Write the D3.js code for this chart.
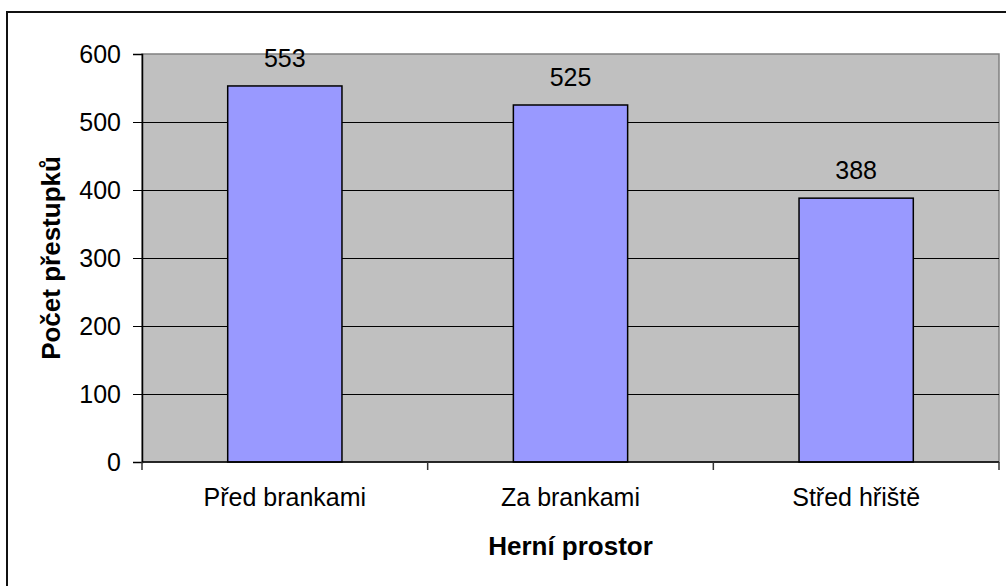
<!DOCTYPE html>
<html>
<head>
<meta charset="utf-8">
<script src="https://cdn.jsdelivr.net/npm/d3@7"></script>
<style>
  body { margin: 0; background: #fff; }
  text { font-family: Arial, "Liberation Sans", sans-serif; fill: #000; }
</style>
</head>
<body>
<div id="container"></div>
<script>
/* DATA */
const categories = ["Před brankami", "Za brankami", "Střed hřiště"];
const values = [553, 525, 388];
const yTicks = [0, 100, 200, 300, 400, 500, 600];
const xTitle = "Herní prostor";
const yTitle = "Počet přestupků";

/* CONSTANTS */
const width = 1006,
  height = 586,
  margin = { top: 54, bottom: 124, left: 142, right: 7 },
  fontSize = 25,
  titleSize = 26;

const svg = d3.select("#container")
  .append("svg")
  .attr("width", width)
  .attr("height", height);

// outer frame (right and bottom edges fall outside the picture)
svg.append("rect")
  .attr("x", 7)
  .attr("y", 12)
  .attr("width", 1010)
  .attr("height", 600)
  .attr("fill", "none")
  .attr("stroke", "#111")
  .attr("stroke-width", 2);

// + SCALES
const xScale = d3.scaleBand()
  .domain(categories)
  .range([margin.left, width - margin.right])
  .paddingInner(0.6)
  .paddingOuter(0.3);

const yScale = d3.scaleLinear()
  .domain([0, 600])
  .range([height - margin.bottom, margin.top]);

const plotW = width - margin.right - margin.left;

// plot background
svg.append("rect")
  .attr("x", margin.left)
  .attr("y", margin.top)
  .attr("width", plotW)
  .attr("height", yScale(0) - margin.top)
  .attr("fill", "#c0c0c0")
  .attr("stroke", "#808080")
  .attr("stroke-width", 1.5);

// gridlines
svg.append("g")
  .selectAll("line")
  .data(yTicks.filter(d => d > 0 && d < 600))
  .join("line")
  .attr("x1", margin.left)
  .attr("x2", width - margin.right)
  .attr("y1", d => yScale(d) + 0.5)
  .attr("y2", d => yScale(d) + 0.5)
  .attr("stroke", "#000")
  .attr("stroke-width", 1);

// + BARS
svg.append("g")
  .selectAll("rect")
  .data(values)
  .join("rect")
  .attr("x", (d, i) => xScale(categories[i]))
  .attr("y", d => yScale(d))
  .attr("width", xScale.bandwidth())
  .attr("height", d => yScale(0) - yScale(d))
  .attr("fill", "#9999ff")
  .attr("stroke", "#000")
  .attr("stroke-width", 1.5);

// value labels
svg.append("g")
  .selectAll("text")
  .data(values)
  .join("text")
  .attr("x", (d, i) => xScale(categories[i]) + xScale.bandwidth() / 2)
  .attr("y", d => yScale(d) - 19)
  .attr("text-anchor", "middle")
  .attr("font-size", fontSize)
  .text(d => d);

// + AXES
const yAxis = d3.axisLeft(yScale)
  .tickValues(yTicks)
  .tickSize(9)
  .tickPadding(12);

const yAxisGroup = svg.append("g")
  .attr("transform", `translate(${margin.left}, 0)`)
  .call(yAxis);
yAxisGroup.select(".domain").attr("stroke", "#000").attr("stroke-width", 1.5);
yAxisGroup.selectAll(".tick line").attr("stroke", "#000");
yAxisGroup.selectAll(".tick text")
  .attr("font-size", fontSize)
  .attr("font-family", "Arial, 'Liberation Sans', sans-serif")
  .attr("fill", "#000");

// bottom axis: ticks at category boundaries
const xBound = d3.scaleLinear().domain([0, categories.length]).range([margin.left, width - margin.right]);
const xAxisGroup = svg.append("g");
xAxisGroup.append("line")
  .attr("x1", margin.left)
  .attr("x2", width - margin.right)
  .attr("y1", yScale(0))
  .attr("y2", yScale(0))
  .attr("stroke", "#000")
  .attr("stroke-width", 1.5);
xAxisGroup.selectAll("line.tick")
  .data(d3.range(categories.length + 1))
  .join("line")
  .attr("class", "tick")
  .attr("x1", d => xBound(d))
  .attr("x2", d => xBound(d))
  .attr("y1", yScale(0))
  .attr("y2", yScale(0) + 8)
  .attr("stroke", "#333")
  .attr("stroke-width", 1.5);
xAxisGroup.selectAll("text")
  .data(categories)
  .join("text")
  .attr("x", d => xScale(d) + xScale.bandwidth() / 2)
  .attr("y", yScale(0) + 44)
  .attr("text-anchor", "middle")
  .attr("font-size", fontSize)
  .text(d => d);

// axis titles
svg.append("text")
  .attr("x", (margin.left + width - margin.right) / 2)
  .attr("y", yScale(0) + 93)
  .attr("text-anchor", "middle")
  .attr("font-size", titleSize)
  .attr("font-weight", "bold")
  .text(xTitle);

svg.append("text")
  .attr("transform", `translate(60, ${(margin.top + yScale(0)) / 2}) rotate(-90)`)
  .attr("text-anchor", "middle")
  .attr("font-size", titleSize)
  .attr("font-weight", "bold")
  .text(yTitle);
</script>
</body>
</html>
